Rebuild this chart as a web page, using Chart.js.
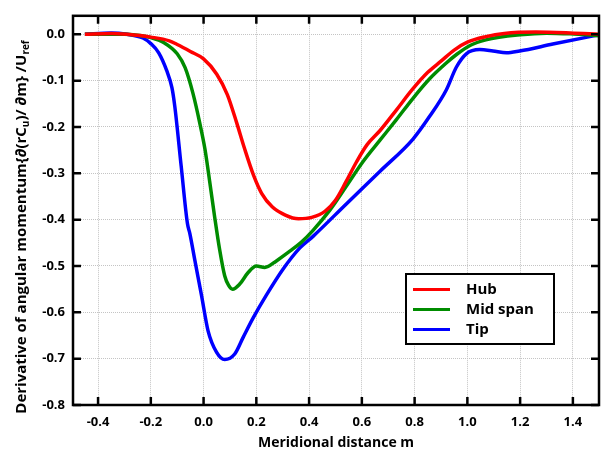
<!DOCTYPE html>
<html>
<head>
<meta charset="utf-8">
<script src="https://cdn.jsdelivr.net/npm/chart.js@4.4.1/dist/chart.umd.min.js"></script>
<style>
  html, body { margin:0; padding:0; background:#fff; }
  #wrap { width:601px; height:452px; }
</style>
</head>
<body>
<div id="wrap"><canvas id="c" width="601" height="452"></canvas></div>
<script>
/* ---------- data ---------- */
const seriesNames = ['Hub', 'Mid span', 'Tip'];
const seriesColors = ['#ff0000', '#008c00', '#0000ff'];

const hubX = [-0.45,-0.35,-0.29,-0.2,-0.13,-0.1,-0.05,0,0.05,0.09,0.125,0.155,0.19,0.22,0.26,0.31,0.36,0.41,0.46,0.5,0.54,0.58,0.62,0.67,0.73,0.79,0.85,0.9,0.95,1.0,1.07,1.14,1.26,1.39,1.5];
const hubY = [0,0.002,0,-0.006,-0.014,-0.022,-0.037,-0.053,-0.086,-0.13,-0.19,-0.246,-0.305,-0.343,-0.372,-0.39,-0.398,-0.395,-0.382,-0.358,-0.318,-0.275,-0.238,-0.207,-0.164,-0.12,-0.082,-0.058,-0.034,-0.017,-0.005,0.002,0.005,0.003,0];

const midX = [-0.45,-0.3,-0.25,-0.2,-0.15,-0.1,-0.07,-0.04,-0.015,0.005,0.023,0.042,0.061,0.08,0.095,0.11,0.137,0.169,0.2,0.232,0.276,0.327,0.37,0.415,0.478,0.541,0.604,0.668,0.731,0.794,0.857,0.92,0.96,1.01,1.07,1.2,1.3,1.39,1.5];
const midY = [0,0,-0.002,-0.007,-0.018,-0.042,-0.072,-0.128,-0.19,-0.247,-0.317,-0.394,-0.465,-0.521,-0.542,-0.55,-0.539,-0.514,-0.5,-0.503,-0.489,-0.468,-0.449,-0.423,-0.38,-0.328,-0.275,-0.229,-0.184,-0.138,-0.096,-0.062,-0.043,-0.024,-0.012,-0.001,0.0025,0.001,-0.003];

const tipX = [-0.45,-0.35,-0.29,-0.23,-0.2,-0.17,-0.14,-0.12,-0.109,-0.085,-0.061,-0.052,-0.033,-0.008,0.017,0.049,0.08,0.118,0.15,0.188,0.238,0.301,0.365,0.415,0.541,0.668,0.794,0.857,0.92,0.958,0.996,1.047,1.097,1.148,1.198,1.324,1.45,1.5];
const tipY = [0,0.003,0,-0.008,-0.02,-0.04,-0.078,-0.115,-0.156,-0.284,-0.409,-0.43,-0.488,-0.563,-0.64,-0.686,-0.702,-0.69,-0.654,-0.612,-0.563,-0.507,-0.461,-0.436,-0.366,-0.296,-0.226,-0.177,-0.12,-0.071,-0.042,-0.033,-0.036,-0.04,-0.036,-0.021,-0.0065,-0.001];

const xTitle = 'Meridional distance m';
const yTitleParts = [['Derivative of angular momentum{∂(rC',0],['u',1],[')/ ∂m} /U',0],['ref',1]];

const FONT = '"Open Sans", "Noto Sans", sans-serif';
const pts = (xs, ys) => xs.map((x,i)=>({x, y:ys[i]}));

/* frame, inward ticks, legend box and y title */
const decor = {
  id:'decor',
  afterDatasetsDraw(chart){
    const {ctx, chartArea:a, scales:{x, y}} = chart;
    ctx.save();
    ctx.strokeStyle = '#000'; ctx.lineWidth = 2.5;
    ctx.strokeRect(a.left, a.top, a.right-a.left, a.bottom-a.top);
    const L = 8;
    ctx.beginPath();
    x.ticks.forEach(t=>{
      const px = x.getPixelForValue(t.value);
      ctx.moveTo(px, a.bottom); ctx.lineTo(px, a.bottom-L);
      ctx.moveTo(px, a.top); ctx.lineTo(px, a.top+L);
    });
    y.ticks.forEach(t=>{
      const py = y.getPixelForValue(t.value);
      ctx.moveTo(a.left, py); ctx.lineTo(a.left+L, py);
      ctx.moveTo(a.right, py); ctx.lineTo(a.right-L, py);
    });
    ctx.stroke();
    ctx.restore();
  },
  afterDraw(chart){
    const ctx = chart.ctx;
    // legend
    ctx.save();
    ctx.fillStyle = '#fff'; ctx.fillRect(406, 274, 148, 70);
    ctx.strokeStyle = '#000'; ctx.lineWidth = 2; ctx.strokeRect(406, 274, 148, 70);
    ctx.font = 'bold 15px ' + FONT; ctx.textBaseline = 'middle'; ctx.textAlign = 'left';
    chart.data.datasets.forEach((ds,i)=>{
      const yy = 289.5 + i*20;
      ctx.strokeStyle = ds.borderColor; ctx.lineWidth = 3;
      ctx.beginPath(); ctx.moveTo(413, yy); ctx.lineTo(450, yy); ctx.stroke();
      ctx.fillStyle = '#000'; ctx.fillText(ds.label, 466, yy);
    });
    ctx.restore();
    // y axis title with subscripts
    ctx.save();
    const big = 'bold 15px ' + FONT, small = 'bold 10px ' + FONT;
    let w = 0;
    yTitleParts.forEach(p=>{ ctx.font = p[1] ? small : big; w += ctx.measureText(p[0]).width; });
    ctx.translate(22, 227); ctx.rotate(-Math.PI/2);
    ctx.fillStyle = '#000'; ctx.textBaseline = 'middle'; ctx.textAlign = 'left';
    let cx = -w/2;
    yTitleParts.forEach(p=>{
      ctx.font = p[1] ? small : big;
      ctx.fillText(p[0], cx, p[1] ? 4 : 0);
      cx += ctx.measureText(p[0]).width;
    });
    ctx.restore();
  }
};

const onStep = (v, s) => Math.abs(v/s - Math.round(v/s)) < 1e-6;

new Chart(document.getElementById('c'), {
  type:'line',
  data:{ datasets:[
    {label:seriesNames[0], data:pts(hubX,hubY), borderColor:seriesColors[0]},
    {label:seriesNames[1], data:pts(midX,midY), borderColor:seriesColors[1]},
    {label:seriesNames[2], data:pts(tipX,tipY), borderColor:seriesColors[2]}
  ].map(d=>Object.assign(d,{borderWidth:3.5, pointRadius:0, fill:false, cubicInterpolationMode:'monotone'})) },
  options:{
    responsive:false, animation:false,
    layout:{ padding:{ top:7, right:2, left:0, bottom:0 } },
    plugins:{ legend:{display:false}, tooltip:{enabled:false} },
    scales:{
      x:{
        type:'linear', min:-0.495, max:1.499,
        afterBuildTicks: s => { s.ticks = s.ticks.filter(t => onStep(t.value, 0.2) && t.value > -0.45 && t.value < 1.45); },
        afterFit: s => { s.height = 47; },
        ticks:{ stepSize:0.2, includeBounds:false, padding:9, color:'#000', font:{family:FONT, size:13, weight:'bold'},
                callback: v => (Math.abs(v) < 1e-9 ? 0 : v).toFixed(1), maxRotation:0, autoSkip:false },
        grid:{ color:'#c4c4c4', lineWidth:1, drawTicks:false },
        border:{ display:false, dash:[1,1] },
        title:{ display:true, text:xTitle, color:'#000', font:{family:FONT, size:14, weight:'bold'}, padding:{top:0, bottom:1} }
      },
      y:{
        type:'linear', min:-0.8, max:0.04,
        afterBuildTicks: s => { s.ticks = s.ticks.filter(t => onStep(t.value, 0.1) && t.value < 0.001); },
        afterFit: s => { s.width = 73; },
        ticks:{ stepSize:0.1, includeBounds:false, padding:8, color:'#000', font:{family:FONT, size:13, weight:'bold'},
                callback: v => (Math.abs(v) < 1e-9 ? 0 : v).toFixed(1) },
        grid:{ color:'#c4c4c4', lineWidth:1, drawTicks:false },
        border:{ display:false, dash:[1,1] }
      }
    }
  },
  plugins:[decor]
});
</script>
</body>
</html>
